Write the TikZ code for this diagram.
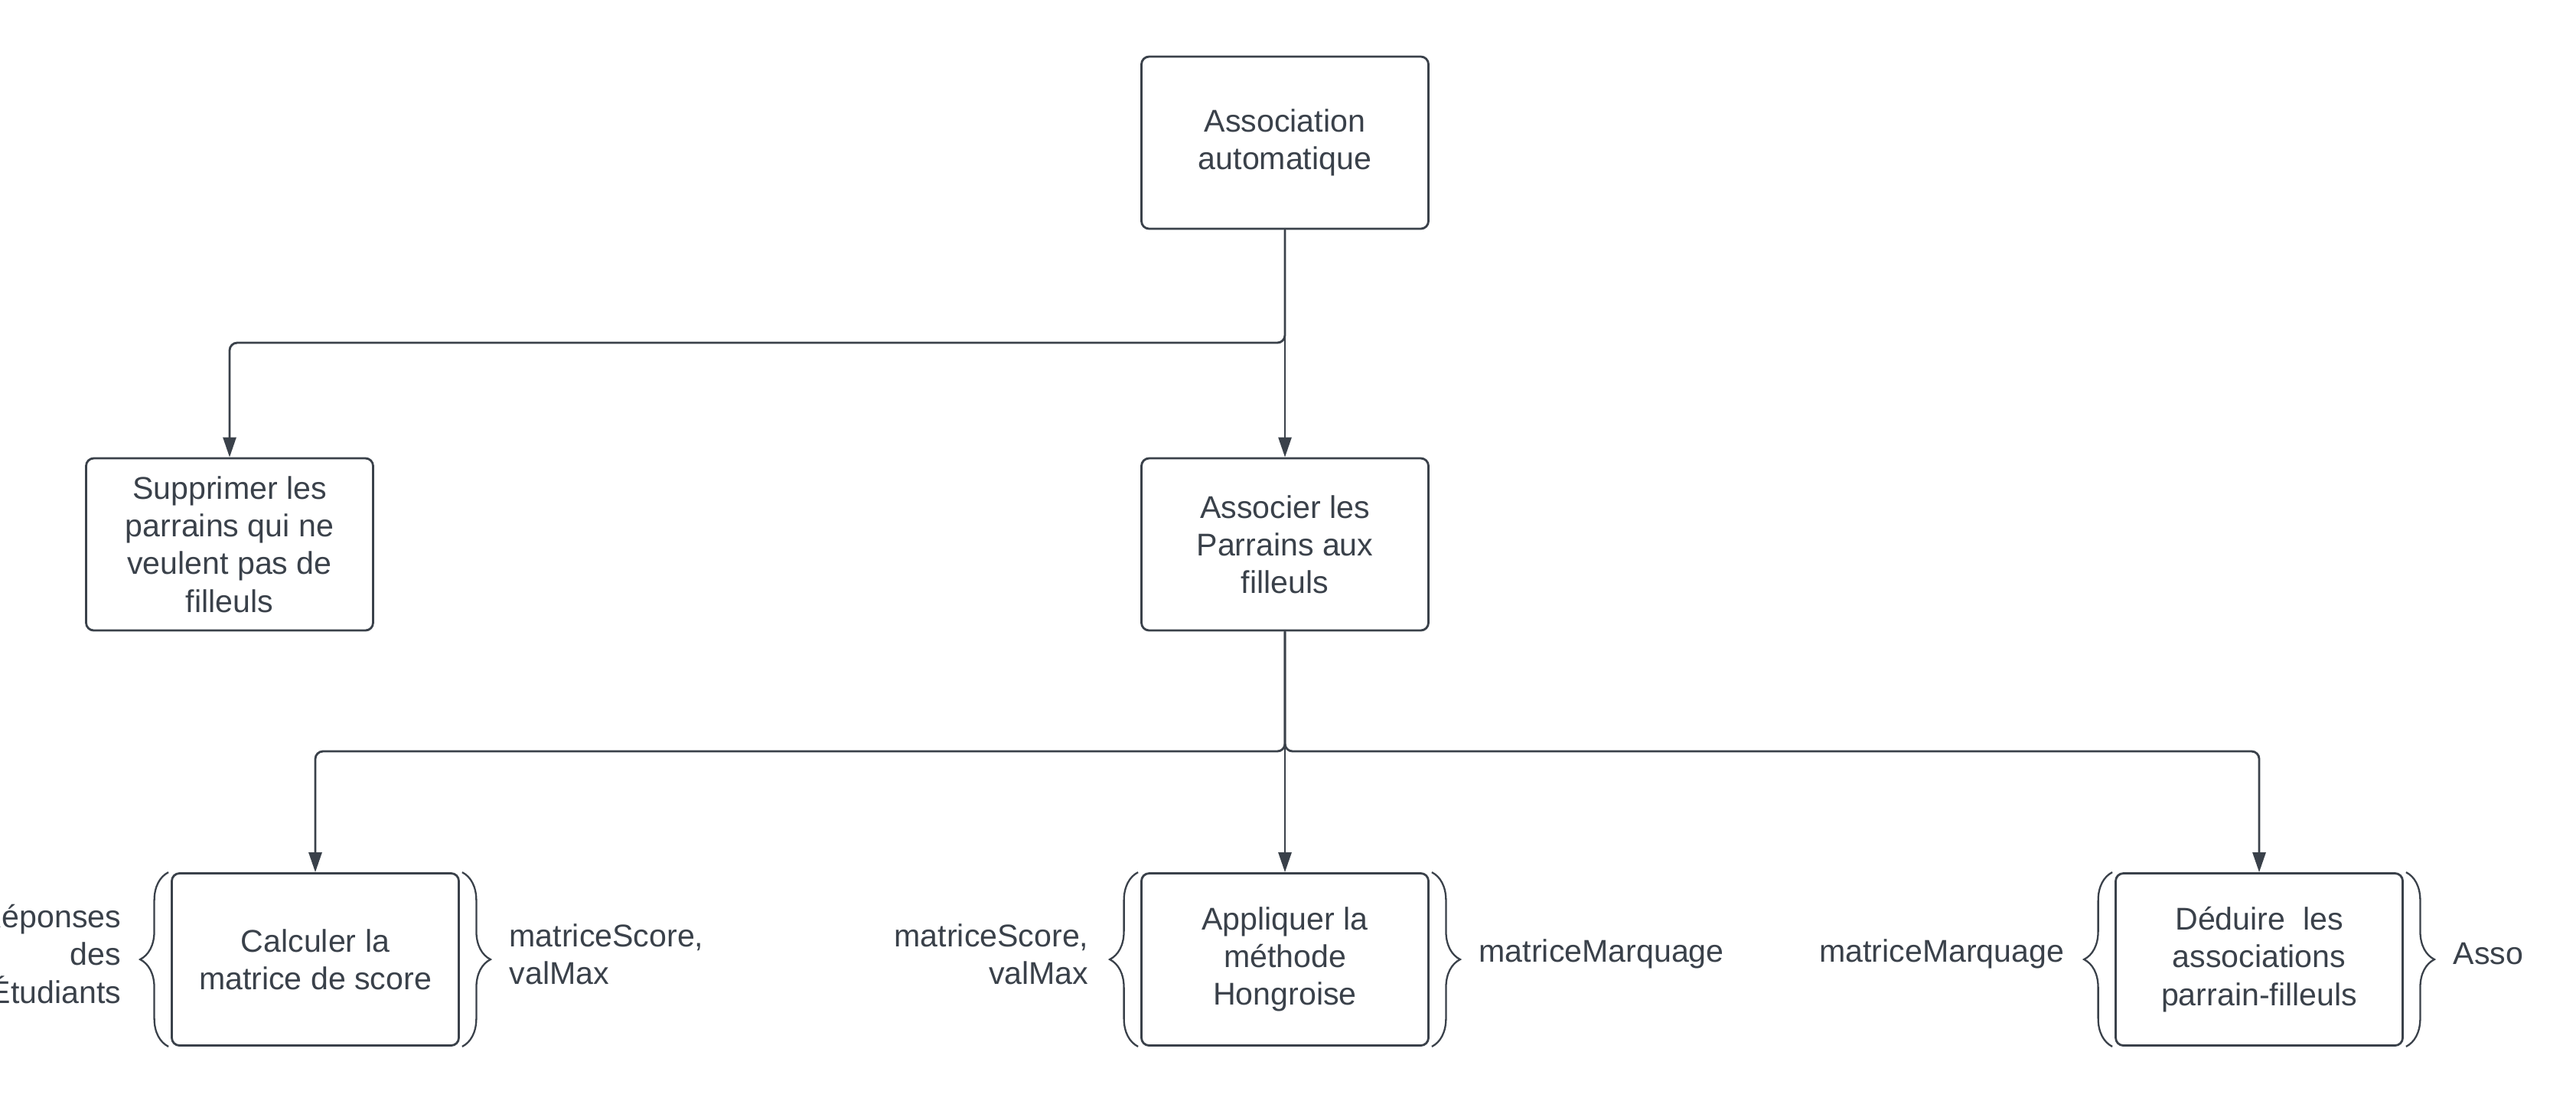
\documentclass[tikz,border=0pt]{standalone}
\usepackage{fontspec}
\setmainfont{Liberation Sans}
\usepackage{tikz}
\usetikzlibrary{arrows.meta,decorations.pathreplacing}

\definecolor{trait}{RGB}{58,65,74}
\newcommand{\taille}{\fontsize{11.7}{14}\selectfont}
\tikzset{
  boite/.style={draw=trait, line width=0.8pt, rounded corners=0.1cm, minimum width=3.75cm, minimum height=2.25cm, align=center, text=trait, font=\taille},
  etiq/.style={inner sep=0pt, text=trait, font=\taille},
  fleche/.style={draw=trait, line width=0.8pt, rounded corners=0.1cm, -{Triangle[length=0.26cm,width=0.17cm]}},
  accol/.style={draw=trait, line width=0.65pt, decorate, decoration={brace, amplitude=0.37cm}}
}

\begin{document}
\begin{tikzpicture}
		\useasboundingbox (0,0) rectangle (33.66,-14.42);
		%
		\node[boite] (root) at (16.79,-1.865) {Association\\automatique};
		\node[boite] (suppr) at (3.0,-7.115) {Supprimer les\\parrains qui ne\\veulent pas de\\filleuls};
		\node[boite] (assoc) at (16.79,-7.115) {Associer les\\Parrains aux\\filleuls};
		\node[boite] (calcul) at (4.12,-12.54) {Calculer la\\matrice de score};
		\node[boite] (hongr) at (16.79,-12.54) {Appliquer la\\méthode\\Hongroise};
		\node[boite] (deduire) at (29.52,-12.54) {Déduire~~les\\associations\\parrain-filleuls};
		%
		\coordinate (j1) at (16.79,-4.48);
		\coordinate (j2) at (16.79,-9.82);
		%
		\draw[fleche] (root.south) -- (j1) -| (suppr.north);
		\draw[fleche] (root.south) -- (assoc.north);
		\draw[fleche] (assoc.south) -- (j2) -| (calcul.north);
		\draw[fleche] (assoc.south) -- (hongr.north);
		\draw[fleche] (assoc.south) -- (j2) -| (deduire.north);
		%
		\draw[accol] ([xshift=-0.03cm]calcul.south west) -- ([xshift=-0.03cm]calcul.north west);
		\draw[accol] ([xshift=0.03cm]calcul.north east) -- ([xshift=0.03cm]calcul.south east);
		\draw[accol] ([xshift=-0.03cm]hongr.south west) -- ([xshift=-0.03cm]hongr.north west);
		\draw[accol] ([xshift=0.03cm]hongr.north east) -- ([xshift=0.03cm]hongr.south east);
		\draw[accol] ([xshift=-0.03cm]deduire.south west) -- ([xshift=-0.03cm]deduire.north west);
		\draw[accol] ([xshift=0.03cm]deduire.north east) -- ([xshift=0.03cm]deduire.south east);
		%
		\node[etiq, anchor=east, align=right] (inCalcul) at (1.59,-12.47) {Réponses\\des\\Étudiants};
		\node[etiq, anchor=west, align=left] (outCalcul) at (6.65,-12.47) {matriceScore,\\valMax};
		\node[etiq, anchor=east, align=right] (inHongr) at (14.23,-12.47) {matriceScore,\\valMax};
		\node[etiq, anchor=west, align=left] (outHongr) at (19.32,-12.47) {matriceMarquage};
		\node[etiq, anchor=east, align=right] (inDeduire) at (26.98,-12.47) {matriceMarquage};
		\node[etiq, anchor=west, align=left] (outDeduire) at (32.05,-12.47) {Asso};
		\end{tikzpicture}
\end{document}
